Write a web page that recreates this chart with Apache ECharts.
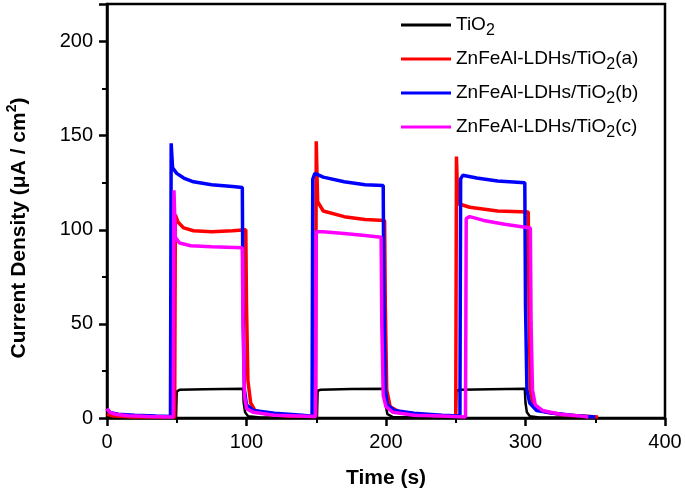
<!DOCTYPE html>
<html><head><meta charset="utf-8">
<script src="https://cdn.jsdelivr.net/npm/echarts@6/dist/echarts.min.js"></script>
<style>html,body{margin:0;padding:0;background:#fff}#c{width:685px;height:492px}</style>
</head><body><div id="c"></div>
<script>
const seriesNames = ['TiO2', 'ZnFeAl-LDHs/TiO2(a)', 'ZnFeAl-LDHs/TiO2(b)', 'ZnFeAl-LDHs/TiO2(c)'];
const seriesColors = ['#000000', '#ff0000', '#0000ff', '#ff00ff'];
const xTicks = [0, 100, 200, 300, 400];
const yTicks = [0, 50, 100, 150, 200];

const tio2 = [[0,0.5],[10,0.3],[30,0.2],[49.5,0.2],[50,14],[52,15],[70,15.3],[97.5,15.6],[98,8],[99,3],[101,1],[110,0.3],[150.5,0.2],[151,14.5],[153,15],[175,15.4],[199,15.5],[199.5,8],[201,2],[205,0.5],[250,0.3],[250.5,14.5],[253,15],[275,15.3],[299.5,15.5],[300,8],[301,3],[303,1],[310,0.3],[330,0.2]];
const ldhA = [[0,2],[5,1],[20,0.5],[48.5,0.5],[49,108],[51,104],[55,101],[62,99.5],[75,99],[90,99.5],[99.5,100],[100,60],[101,20],[103,8],[106,4],[115,2],[130,1],[149.5,0.8],[150,147],[150.5,147],[151,115],[155,110],[170,107],[185,105.5],[199,105],[199.5,60],[200.5,15],[203,6],[210,3],[230,1.5],[250,1],[250.5,139],[251,139],[251.5,114],[260,112],[280,110],[302,109.5],[302.5,60],[303.5,15],[306,6],[315,3],[330,1.5],[352,0.5]];
const ldhB = [[0,5],[2,3],[8,2],[20,1.5],[35,1],[45.5,0.8],[46,146],[46.5,146],[47,133],[50,130],[55,127.5],[62,125.5],[75,124],[90,123],[97,122.5],[97.5,60],[98.5,15],[100,7],[105,4],[120,2.5],[140,1.5],[147,1],[147.5,127],[149,130],[155,128],[170,125.5],[185,124],[198,123.5],[198.5,60],[199.5,15],[201,7],[206,4],[220,2.5],[240,1.5],[253,1],[253.5,127],[255,129],[265,127.5],[280,126],[299.5,125],[300,60],[301,15],[303,8],[308,4],[320,2.5],[340,1],[350,0.5]];
const ldhC = [[0,5],[2,3],[6,2],[15,1.2],[30,0.8],[47.5,0.5],[48,121],[48.5,121],[49,96],[52,93],[60,91.5],[75,91],[97,90.5],[97.5,50],[98.5,12],[100,5],[105,3],[120,1.5],[149.5,0.8],[150,99],[155,99],[170,98],[185,97],[196.5,96],[197,50],[198,12],[200,6],[205,3],[220,1.5],[240,1],[257,0.5],[257.5,106],[260,107],[270,105],[285,103],[303.5,101],[304,50],[305,15],[307,7],[312,4],[325,2],[340,1],[345,0.5]];

const allData = [tio2, ldhA, ldhB, ldhC];
const FONT = '"Liberation Sans", Arial, sans-serif';

const chart = echarts.init(document.getElementById('c'));
chart.setOption({
  animation: false,
  backgroundColor: '#fff',
  grid: { left: 107, right: 20, top: 4, bottom: 74, show: true, borderColor: '#000', borderWidth: 2.5,
    containLabel: false, outerBoundsMode: 'none' },
  legend: {
    orient: 'vertical', left: 396, top: 6, itemGap: 6,
    icon: 'rect', itemWidth: 50, itemHeight: 3,
    data: seriesNames,
    formatter: n => n.replace('TiO2', 'TiO{sub|2}'),
    textStyle: { fontFamily: FONT, fontSize: 19, color: '#000', lineHeight: 28,
      rich: { sub: { fontFamily: FONT, fontSize: 16, lineHeight: 16, verticalAlign: 'bottom', color: '#000' } } }
  },
  xAxis: {
    type: 'value', min: 0, max: 400, interval: 100,
    name: 'Time (s)', nameLocation: 'middle', nameGap: 50,
    nameTextStyle: { fontFamily: FONT, fontSize: 21, fontWeight: 'bold', color: '#000' },
    axisLine: { onZero: false, lineStyle: { color: '#000', width: 2.5 } },
    axisTick: { inside: false, length: 8, lineStyle: { width: 2.5, color: '#000' } },
    minorTick: { show: true, splitNumber: 2, length: 5, lineStyle: { width: 2, color: '#000' } },
    axisLabel: { fontFamily: FONT, fontSize: 20, color: '#000', margin: 14, formatter: v => xTicks.includes(v) ? String(v) : '' },
    splitLine: { show: false }
  },
  yAxis: {
    type: 'value', min: 0, max: 220, interval: 50,
    name: 'Current Density (μA / cm{sup|2})', nameLocation: 'middle', nameGap: 74, nameRotate: 90,
    nameTextStyle: { fontFamily: FONT, fontSize: 21, fontWeight: 'bold', color: '#000', lineHeight: 28,
      padding: [0, 34, 0, 0],
      rich: { sup: { fontFamily: FONT, fontSize: 14, fontWeight: 'bold', lineHeight: 14, verticalAlign: 'top', color: '#000' } } },
    axisLine: { show: true, onZero: false, lineStyle: { color: '#000', width: 2.5 } },
    axisTick: { inside: false, length: 8, lineStyle: { width: 2.5, color: '#000' } },
    minorTick: { show: true, splitNumber: 2, length: 5, lineStyle: { width: 2, color: '#000' } },
    axisLabel: { fontFamily: FONT, fontSize: 20, color: '#000', margin: 14, formatter: v => yTicks.includes(v) ? String(v) : '' },
    splitLine: { show: false }
  },
  series: allData.map((d, i) => ({
    name: seriesNames[i], type: 'line', data: d, showSymbol: false, symbol: 'none',
    color: seriesColors[i],
    lineStyle: { color: seriesColors[i], width: i === 0 ? 2.5 : 3.5 },
    itemStyle: { color: seriesColors[i] },
    z: 2 + i
  }))
});
</script></body></html>
